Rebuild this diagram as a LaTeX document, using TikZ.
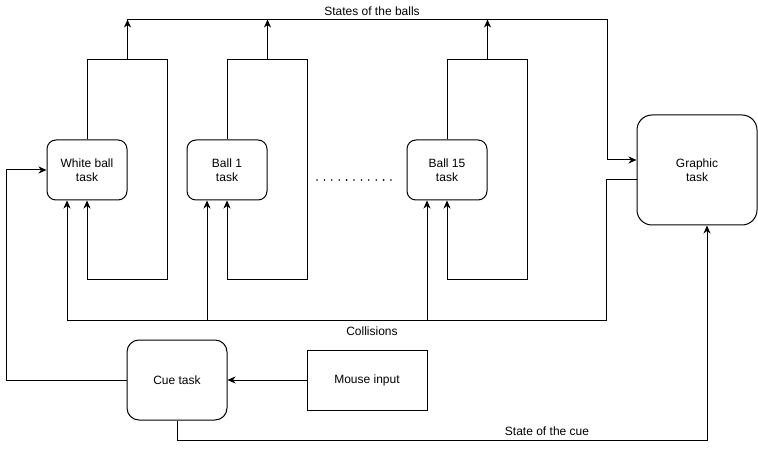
\documentclass[tikz,border=0pt]{standalone}
\usepackage{fontspec}
\setmainfont{Liberation Sans}
\usepackage{tikz}
\usetikzlibrary{arrows.meta}
\usetikzlibrary{positioning}
\tikzstyle{every node}+=[inner sep=0pt]
\tikzstyle{task} = [rectangle, draw, font=\fontsize{12}{14}\selectfont, align=center, text centered, rounded corners=9pt, minimum height=60pt, minimum width=80pt]
\tikzstyle{line} = [draw, -{Stealth[length=8pt, width=7pt, inset=2.5pt]}]
\tikzstyle{note} = [black, font=\fontsize{12}{14}\selectfont]

\begin{document}
\begin{tikzpicture}[x=1pt, y=-1pt, line width=1pt]
            \useasboundingbox (0,0) rectangle (758,449);
            % Place nodes
            \node [task] (wb) at (87,170) {White ball\\task};
            \node [task] (b1) at (227,170) {Ball 1\\task};
            \node [task] (b15) at (447,170) {Ball 15\\task};
            \node [task, minimum width=120pt, minimum height=110pt, rounded corners=15pt] (gt) at (697,170) {Graphic\\task};
            \node [task, minimum width=100pt, minimum height=80pt, rounded corners=12pt] (cue) at (177,380) {Cue task};
            \node [task, minimum width=120pt, rounded corners=0pt] (mouse) at (367,380) {Mouse input};
            \node [note] (states) at (372,11) {States of the balls};
            \node [note] (coll) at (372,331) {Collisions};
            \node [note] (scue) at (547,431) {State of the cue};
            \foreach \i in {0,...,10}
                \fill (317+7.4*\i,180) circle (0.9pt);
            \coordinate (bus) at (127,20);
            \coordinate (busr) at (607,20);
            % Draw edges
            \foreach \b in {wb, b1, b15} {
                \path [line] (\b.north) -- ++(0,-80) -- ++(80,0) -- ++(0,220) -- ++(-80,0) -- (\b.south);
                \path [line] ([yshift=80pt]\b.north east) -- ++(0,-40);
            }
            \path [line] (bus) -- (busr) |- ([yshift=10pt]gt.west);
            \path [line] ([yshift=-10pt]gt.west) -- ++(-30,0) -- ++(0,140) -| ([xshift=-20pt]wb.south);
            \path [line] ([xshift=-20pt,yshift=-120pt]b1.south) -- ([xshift=-20pt]b1.south);
            \path [line] ([xshift=-20pt,yshift=-120pt]b15.south) -- ([xshift=-20pt]b15.south);
            \path [line] (cue.west) -- ++(-120,0) |- (wb.west);
            \path [line] (mouse.west) -- (cue.east);
            \path [line] (cue.south) -- ++(0,20) -| ([xshift=10pt]gt.south);
\end{tikzpicture}
\end{document}
